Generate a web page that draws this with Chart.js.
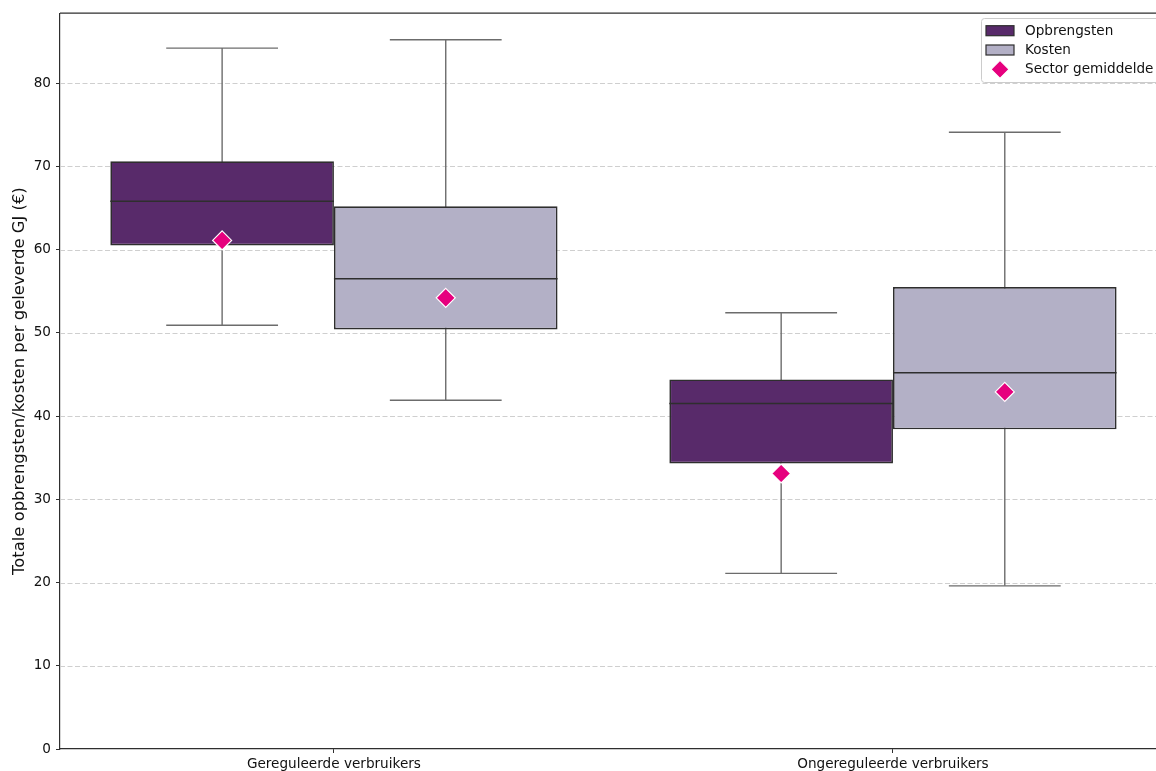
<!DOCTYPE html>
<html lang="nl">
<head>
<meta charset="utf-8">
<title>Opbrengsten en kosten per geleverde GJ</title>
<script src="https://cdn.jsdelivr.net/npm/chart.js@4.4.1/dist/chart.umd.min.js"></script>
<style>
  html, body { margin: 0; padding: 0; background: #ffffff; overflow: hidden; }
  #wrap { width: 1156px; height: 771px; }
</style>
</head>
<body>
<div id="wrap"><canvas id="chart" width="1156" height="771"></canvas></div>
<script>
// Categories and series
const categories = ['Gereguleerde verbruikers', 'Ongereguleerde verbruikers'];
const seriesNames = ['Opbrengsten', 'Kosten'];
const meanLabel = 'Sector gemiddelde';

// Box statistics per category (€ per geleverde GJ)
const opbrengstenMin    = [50.9, 21.1];
const opbrengstenQ1     = [60.5, 34.3];
const opbrengstenMedian = [65.8, 41.5];
const opbrengstenQ3     = [70.6, 44.4];
const opbrengstenMax    = [84.2, 52.4];
const opbrengstenMean   = [61.1, 33.1];

const kostenMin    = [41.9, 19.6];
const kostenQ1     = [50.4, 38.4];
const kostenMedian = [56.5, 45.2];
const kostenQ3     = [65.2, 55.5];
const kostenMax    = [85.2, 74.1];
const kostenMean   = [54.2, 42.9];

// Axis ticks
const yTicks = [0, 10, 20, 30, 40, 50, 60, 70, 80];

const COLORS = {
  opbrengsten: '#582a6a',
  kosten: '#b3b0c6',
  edge: '#2e2e2e',
  whisker: '#6c6c6c',
  mean: '#e6007e',
  grid: '#cfcfcf',
  text: '#111111'
};
const FONT = "'DejaVu Sans', sans-serif";
const TICK_SIZE = 13.6;

function boxDataset(label, color, q1, q3, lo, med, hi, mean) {
  return {
    label: label,
    data: categories.map((c, i) => ({ x: i, y: [q1[i], q3[i]] })),
    backgroundColor: color,
    borderColor: COLORS.edge,
    borderWidth: 1.7,
    borderSkipped: false,
    categoryPercentage: 0.8,
    barPercentage: 1.0,
    whiskerLow: lo,
    median: med,
    whiskerHigh: hi,
    mean: mean
  };
}

const datasets = [
  boxDataset(seriesNames[0], COLORS.opbrengsten, opbrengstenQ1, opbrengstenQ3,
             opbrengstenMin, opbrengstenMedian, opbrengstenMax, opbrengstenMean),
  boxDataset(seriesNames[1], COLORS.kosten, kostenQ1, kostenQ3,
             kostenMin, kostenMedian, kostenMax, kostenMean)
];

function hLine(ctx, x1, x2, y) {
  ctx.beginPath(); ctx.moveTo(x1, y); ctx.lineTo(x2, y); ctx.stroke();
}
function vLine(ctx, x, y1, y2) {
  ctx.beginPath(); ctx.moveTo(x, y1); ctx.lineTo(x, y2); ctx.stroke();
}
function diamond(ctx, x, y, r) {
  ctx.save();
  ctx.fillStyle = COLORS.mean;
  ctx.strokeStyle = '#ffffff';
  ctx.lineWidth = 1.2;
  ctx.beginPath();
  ctx.moveTo(x, y - r); ctx.lineTo(x + r, y); ctx.lineTo(x, y + r); ctx.lineTo(x - r, y);
  ctx.closePath();
  ctx.fill(); ctx.stroke();
  ctx.restore();
}

// Grid, whiskers, medians, means, frame and legend
const boxPlotParts = {
  id: 'boxPlotParts',
  beforeDatasetsDraw(chart) {
    const { ctx, chartArea, scales: { y } } = chart;
    ctx.save();
    ctx.strokeStyle = COLORS.grid;
    ctx.lineWidth = 1;
    ctx.setLineDash([5, 2.5]);
    y.ticks.forEach(t => {
      if (t.value === 0) return;
      const py = Math.round(y.getPixelForValue(t.value)) + 0.5;
      hLine(ctx, chartArea.left, chartArea.right, py);
    });
    ctx.restore();

    ctx.save();
    ctx.strokeStyle = COLORS.whisker;
    ctx.lineWidth = 1.4;
    chart.data.datasets.forEach((ds, di) => {
      chart.getDatasetMeta(di).data.forEach((bar, i) => {
        const { x, width } = bar.getProps(['x', 'width'], true);
        const yLo = y.getPixelForValue(ds.whiskerLow[i]);
        const yHi = y.getPixelForValue(ds.whiskerHigh[i]);
        vLine(ctx, x, yLo, yHi);
        hLine(ctx, x - width / 4, x + width / 4, yLo);
        hLine(ctx, x - width / 4, x + width / 4, yHi);
      });
    });
    ctx.restore();
  },
  afterDatasetsDraw(chart) {
    const { ctx, scales: { y } } = chart;
    ctx.save();
    ctx.strokeStyle = COLORS.edge;
    ctx.lineWidth = 1.6;
    chart.data.datasets.forEach((ds, di) => {
      chart.getDatasetMeta(di).data.forEach((bar, i) => {
        const { x, width } = bar.getProps(['x', 'width'], true);
        hLine(ctx, x - width / 2, x + width / 2, y.getPixelForValue(ds.median[i]));
      });
    });
    chart.data.datasets.forEach((ds, di) => {
      chart.getDatasetMeta(di).data.forEach((bar, i) => {
        const { x } = bar.getProps(['x'], true);
        diamond(ctx, x, y.getPixelForValue(ds.mean[i]), 9.5);
      });
    });
    ctx.restore();
  },
  afterDraw(chart) {
    const { ctx, chartArea } = chart;
    // top frame line
    ctx.save();
    ctx.strokeStyle = COLORS.edge;
    ctx.lineWidth = 1.2;
    hLine(ctx, chartArea.left, chartArea.right, chartArea.top);
    ctx.restore();

    // legend in the upper right corner of the plot
    const lx = 981, ly = 18, lw = 200, lh = 64;
    ctx.save();
    ctx.fillStyle = 'rgba(255,255,255,0.85)';
    ctx.strokeStyle = '#cccccc';
    ctx.lineWidth = 1;
    ctx.beginPath();
    ctx.roundRect(lx + 0.5, ly + 0.5, lw, lh, 3);
    ctx.fill(); ctx.stroke();

    ctx.font = TICK_SIZE + 'px ' + FONT;
    ctx.textBaseline = 'middle';
    ctx.fillStyle = COLORS.text;
    const rows = [
      { label: seriesNames[0], color: COLORS.opbrengsten },
      { label: seriesNames[1], color: COLORS.kosten },
      { label: meanLabel, marker: true }
    ];
    rows.forEach((r, k) => {
      const cy = ly + 12.7 + k * 19.3;
      if (r.marker) {
        diamond(ctx, 1000, cy, 9);
      } else {
        ctx.fillStyle = r.color;
        ctx.strokeStyle = COLORS.edge;
        ctx.lineWidth = 1.2;
        ctx.fillRect(986, cy - 5, 28, 10);
        ctx.strokeRect(986, cy - 5, 28, 10);
      }
      ctx.fillStyle = COLORS.text;
      ctx.fillText(r.label, 1025, cy + 0.5);
    });
    ctx.restore();
  }
};

new Chart(document.getElementById('chart'), {
  type: 'bar',
  data: { datasets: datasets },
  plugins: [boxPlotParts],
  options: {
    responsive: false,
    animation: false,
    layout: { padding: { top: 12, right: 0, bottom: 0, left: 0 } },
    plugins: { legend: { display: false }, tooltip: { enabled: false } },
    scales: {
      x: {
        type: 'linear',
        offset: false,
        min: -0.49,
        max: 1.4705,
        afterBuildTicks(scale) { scale.ticks = categories.map((c, i) => ({ value: i })); },
        afterFit(scale) { scale.height = 22; },
        ticks: {
          callback: (v) => categories[v],
          color: COLORS.text,
          font: { family: FONT, size: TICK_SIZE },
          padding: 3,
          maxRotation: 0,
          autoSkip: false
        },
        grid: { drawOnChartArea: false, drawTicks: true, tickLength: 4, tickColor: COLORS.edge, offset: false },
        border: { display: true, color: COLORS.edge, width: 1.2 }
      },
      y: {
        min: 0,
        max: 88.4,
        afterBuildTicks(scale) { scale.ticks = yTicks.map(v => ({ value: v })); },
        afterFit(scale) { scale.width = 60; },
        ticks: {
          color: COLORS.text,
          font: { family: FONT, size: TICK_SIZE },
          padding: 5
        },
        grid: { drawOnChartArea: false, drawTicks: true, tickLength: 4, tickColor: COLORS.edge },
        border: { display: true, color: COLORS.edge, width: 1.2 },
        title: {
          display: true,
          text: 'Totale opbrengsten/kosten per geleverde GJ (€)',
          color: COLORS.text,
          font: { family: FONT, size: 16.4 },
          padding: { top: 10, bottom: 0 }
        }
      }
    }
  }
});
</script>
</body>
</html>
